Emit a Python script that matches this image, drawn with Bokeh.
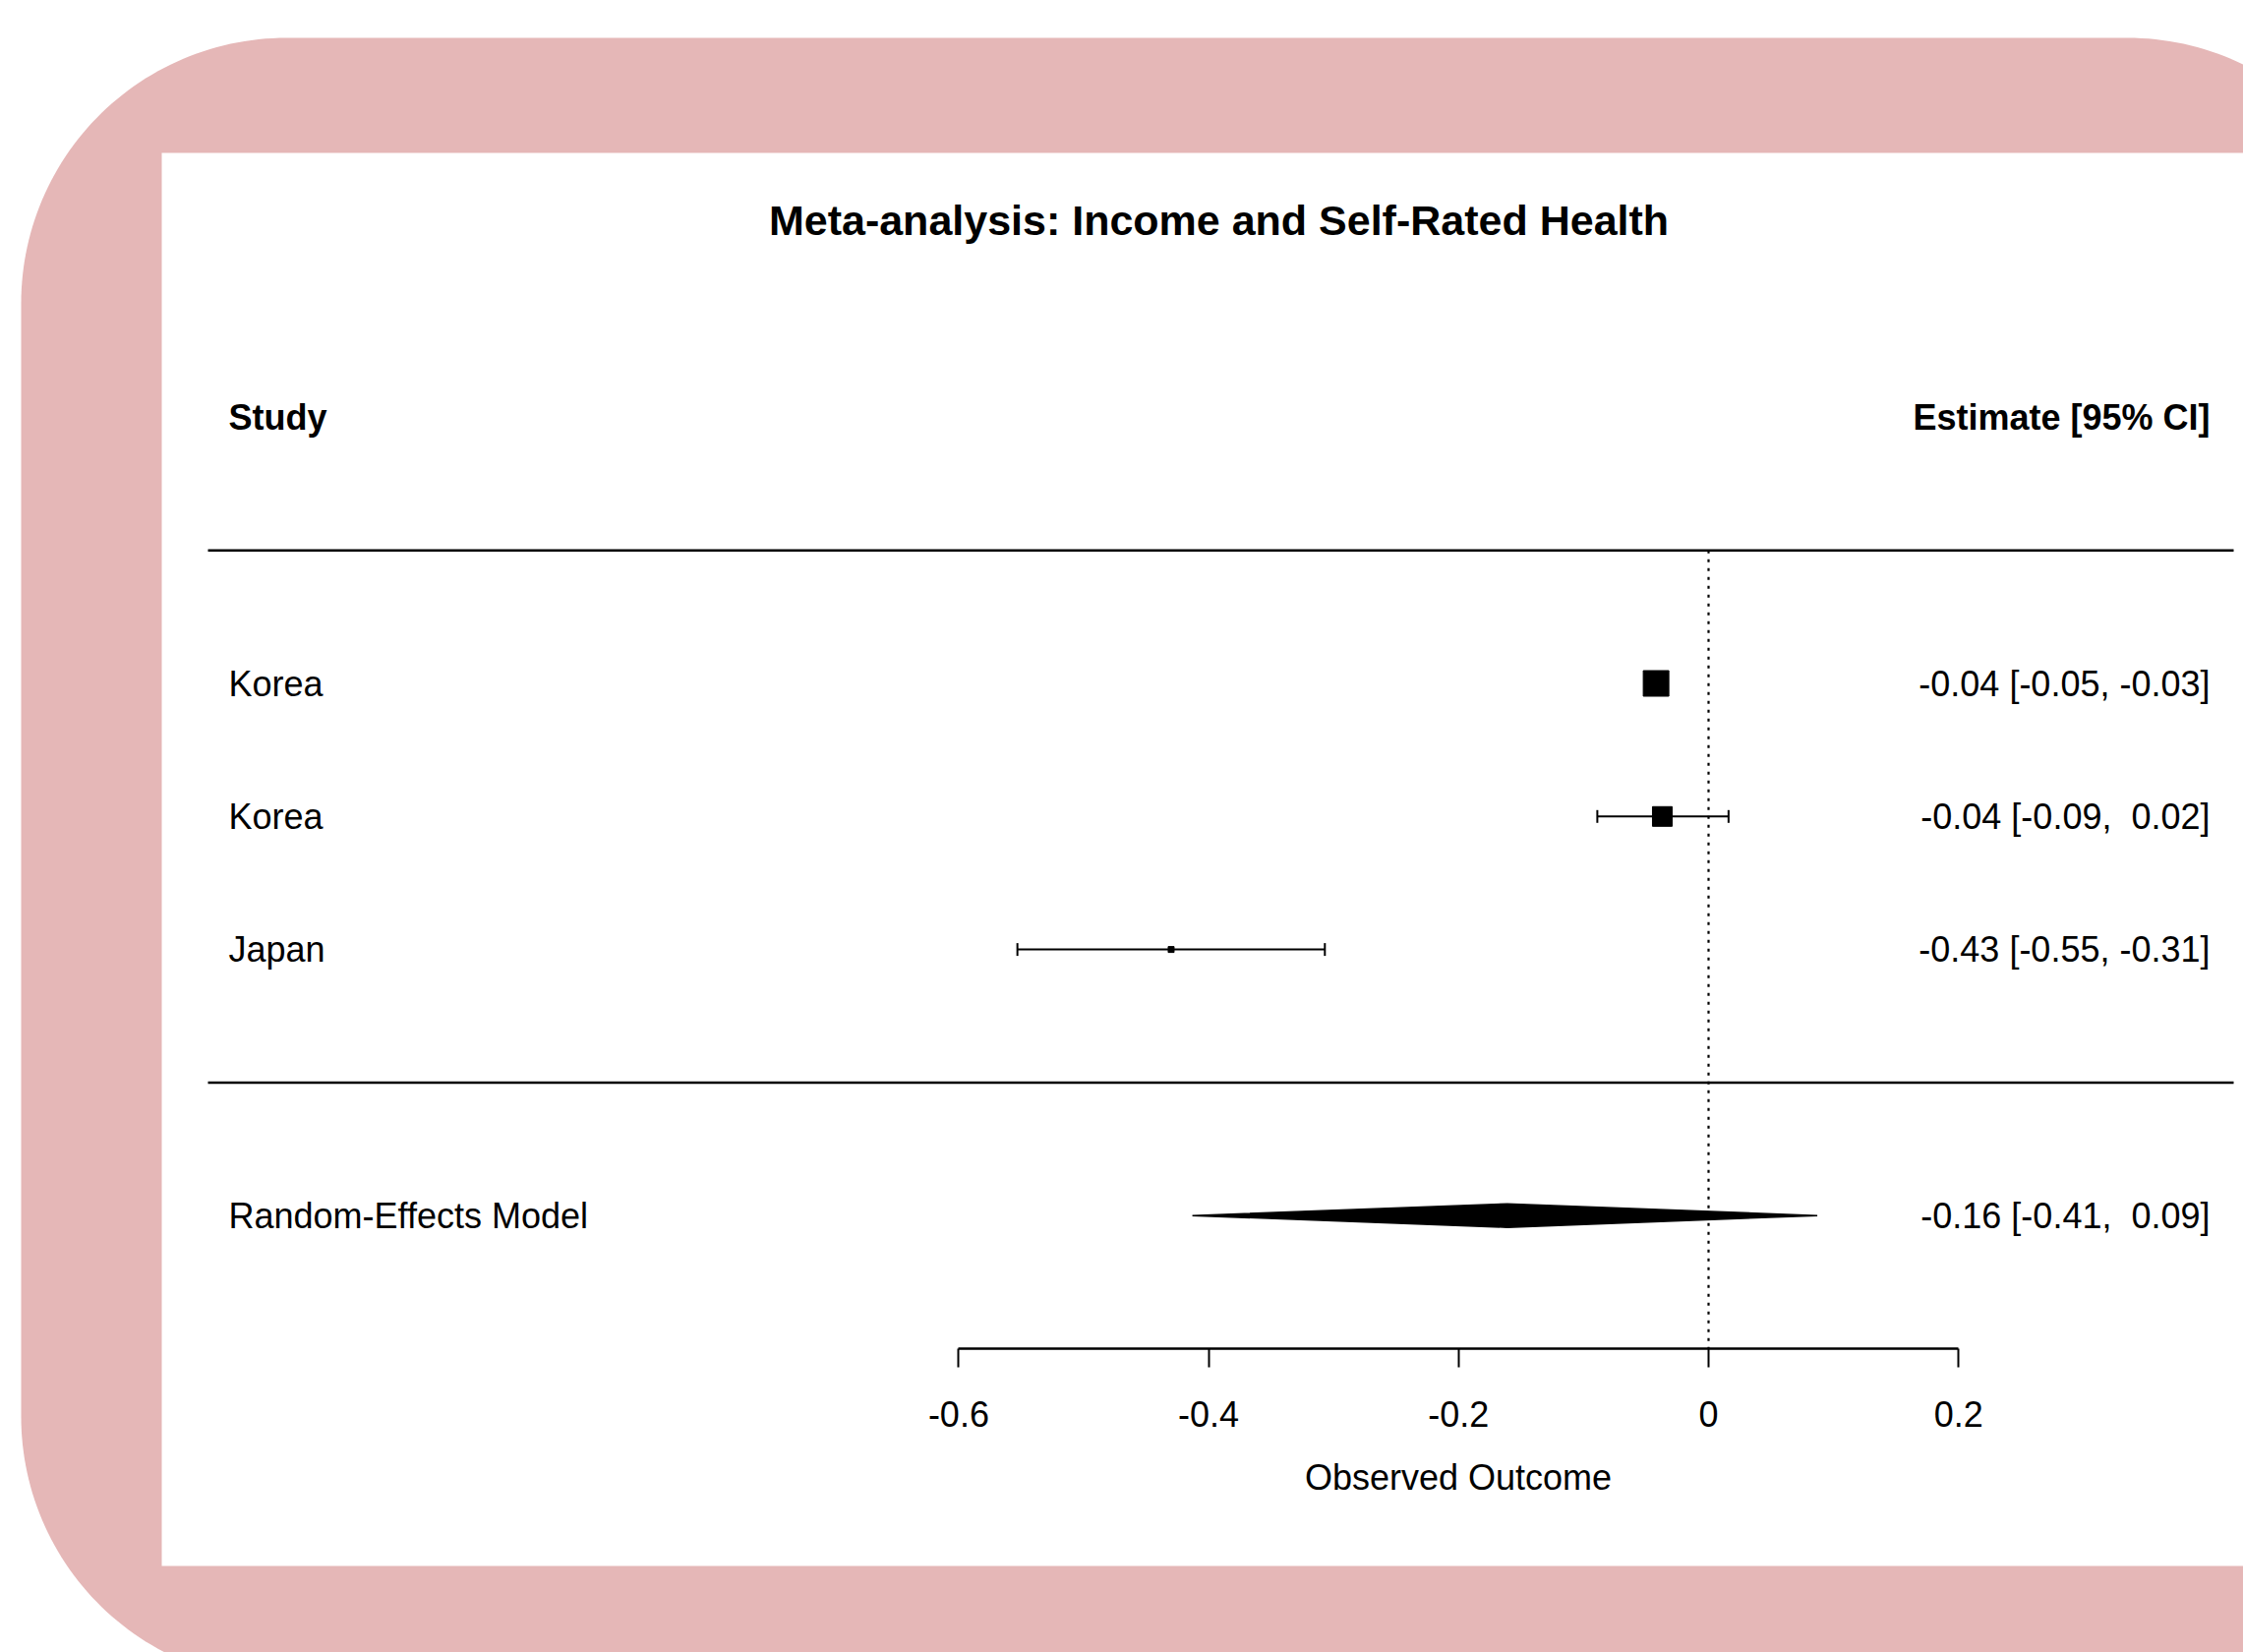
import numpy as np
from bokeh.plotting import figure
from bokeh.models import Range1d, LinearAxis, FixedTicker, CustomJSTickFormatter
from bokeh.core.properties import value
from bokeh.embed import file_html
from bokeh.resources import INLINE

# ---------------- data ----------------
title_text = "Meta-analysis: Income and Self-Rated Health"
col_left = "Study"
col_right = "Estimate [95% CI]"
studies = ["Korea", "Korea", "Japan"]
yi = [-0.042, -0.037, -0.430]
ci_lb = [-0.050, -0.089, -0.553]
ci_ub = [-0.033, 0.016, -0.307]
box_size = [26, 20, 6]
re_label = "Random-Effects Model"
re_est = -0.161
re_lb = -0.413
re_ub = 0.087
ref_value = 0.0
x_ticks = [-0.6, -0.4, -0.2, 0.0, 0.2]
x_tick_labels = ["-0.6", "-0.4", "-0.2", "0", "0.2"]
x_label = "Observed Outcome"


def fmt(v):
    s = f"{v:.2f}"
    return s if v < 0 else "\u00a0" + s


def ci_text(e, l, u):
    return f"{fmt(e)} [{fmt(l)}, {fmt(u)}]"


est_labels = [ci_text(e, l, u) for e, l, u in zip(yi, ci_lb, ci_ub)]
re_text = ci_text(re_est, re_lb, re_ub)

# ---------------- layout constants (page pixels) ----------------
W, H = 2281, 1680
OX, OY = 0, 0
X0, UX = 1737.0, 1271.0      # pixel of value 0, pixels per unit
n = len(studies)
Y_TOP_ROW, DY = 694.5, 135.3  # pixel of row n, pixels per row

rows = list(range(n, 0, -1))
header_row = n + 2
top_line_row = n + 1
bottom_line_row = 0
re_row = -1
axis_row = -2

FONT_NAME = "Liberation Sans"
FONT = value(FONT_NAME)
PINK = "#E5B7B7"

x_start = (OX - X0) / UX
x_end = (OX + W - X0) / UX
y_top = n + (Y_TOP_ROW - OY) / DY
y_bot = n - (OY + H - Y_TOP_ROW) / DY

p = figure(width=W, height=H,
           x_range=Range1d(x_start, x_end), y_range=Range1d(y_bot, y_top),
           output_backend="svg", toolbar_location=None,
           x_axis_type=None, y_axis_type=None, min_border=0,
           outline_line_color=None, background_fill_color="white",
           border_fill_color="white")
p.extra_x_ranges = {"px": Range1d(OX, OX + W)}
p.extra_y_ranges = {"px": Range1d(OY + H, OY)}

# ---------------- decorative frame ----------------
def rounded_rect(l, t, r, b, rad, k=60):
    xs, ys = [], []
    for cx, cy, a0, a1 in [(l + rad, t + rad, np.pi, np.pi / 2),
                           (r - rad, t + rad, np.pi / 2, 0),
                           (r - rad, b - rad, 0, -np.pi / 2),
                           (l + rad, b - rad, -np.pi / 2, -np.pi)]:
        th = np.linspace(a0, a1, k)
        xs.extend(cx + rad * np.cos(th))
        ys.extend(cy - rad * np.sin(th))
    return xs, ys

ox, oy = rounded_rect(21, 38, 2433, 1710, 270)
p.patch(ox, oy, fill_color=PINK, line_color=None,
        x_range_name="px", y_range_name="px")
p.quad(left=[164], right=[2450], top=[155], bottom=[1592],
       fill_color="white", line_color=None,
       x_range_name="px", y_range_name="px")

# ---------------- separators and reference line ----------------
p.segment(x0=[211, 211], x1=[2271, 2271],
          y0=[top_line_row, bottom_line_row], y1=[top_line_row, bottom_line_row],
          line_color="black", line_width=2.5, x_range_name="px")
p.segment(x0=[ref_value], x1=[ref_value], y0=[top_line_row], y1=[axis_row],
          line_color="black", line_width=2.2, line_dash="3 6")

# ---------------- study CIs and boxes ----------------
p.segment(x0=ci_lb, x1=ci_ub, y0=rows, y1=rows, line_color="black", line_width=2)
p.scatter(x=ci_lb + ci_ub, y=rows + rows, marker="dash", angle=np.pi / 2,
          size=13, line_color="black", line_width=2)
p.scatter(x=yi, y=rows, marker="square", size=box_size,
          fill_color="black", line_color="black", line_width=1)

# ---------------- summary diamond ----------------
h = 12 / DY
p.patch([re_lb, re_est, re_ub, re_est], [re_row, re_row + h, re_row, re_row - h],
        fill_color="black", line_color="black", line_width=1.5)

# ---------------- texts ----------------
p.text(x=[1239], y=[223], text=[title_text], text_font=FONT,
       text_font_size="43px", text_font_style="bold", text_align="center",
       text_baseline="middle", text_color="black",
       x_range_name="px", y_range_name="px")
p.text(x=[232], y=[header_row], text=[col_left], text_font=FONT,
       text_font_size="36px", text_font_style="bold", text_align="left",
       text_baseline="middle", x_range_name="px")
p.text(x=[2247], y=[header_row], text=[col_right], text_font=FONT,
       text_font_size="36px", text_font_style="bold", text_align="right",
       text_baseline="middle", x_range_name="px")
p.text(x=[232] * (n + 1), y=rows + [re_row], text=studies + [re_label],
       text_font=FONT, text_font_size="36px", text_align="left",
       text_baseline="middle", x_range_name="px")
p.text(x=[2247] * (n + 1), y=rows + [re_row], text=est_labels + [re_text],
       text_font=FONT, text_font_size="36px", text_align="right",
       text_baseline="middle", x_range_name="px")

# ---------------- x axis ----------------
formatter = CustomJSTickFormatter(args=dict(vals=x_ticks, labs=x_tick_labels), code="""
const i = vals.findIndex(v => Math.abs(v - tick) < 1e-9);
return i >= 0 ? labs[i] : tick.toString();
""")
ax = LinearAxis(fixed_location=axis_row, bounds=(x_ticks[0], x_ticks[-1]),
                ticker=FixedTicker(ticks=x_ticks, minor_ticks=[]),
                formatter=formatter, axis_label=x_label,
                major_tick_in=0, major_tick_out=19, minor_tick_in=0, minor_tick_out=0,
                axis_line_width=2.5, major_tick_line_width=2,
                axis_line_color="black", major_tick_line_color="black",
                major_label_text_font=FONT_NAME, major_label_text_font_size="36px",
                major_label_text_color="black", major_label_standoff=34,
                axis_label_text_font=FONT_NAME, axis_label_text_font_size="36px",
                axis_label_text_font_style="normal", axis_label_text_color="black",
                axis_label_standoff=28)
p.add_layout(ax, "below")

open("out.html", "w").write(file_html(p, INLINE))
